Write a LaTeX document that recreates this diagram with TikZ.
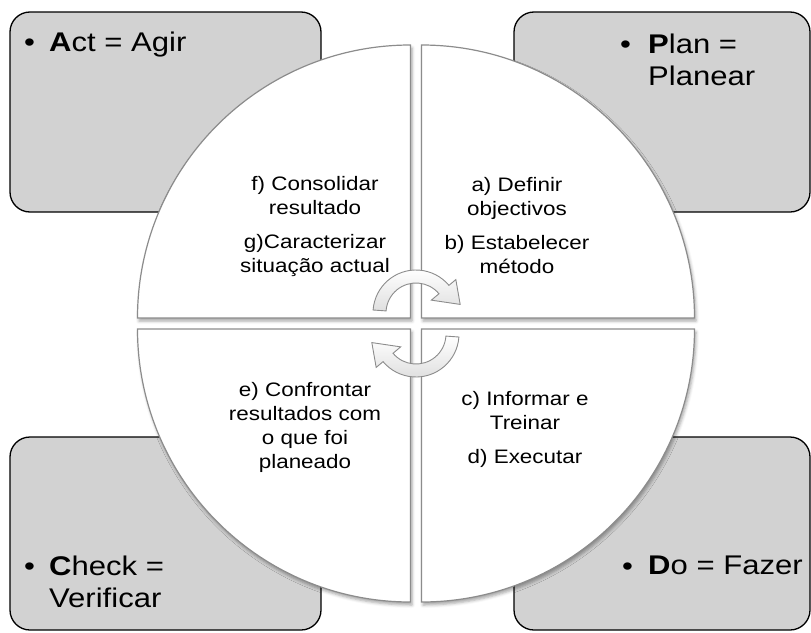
\documentclass[tikz,border=0pt]{standalone}
\usepackage{fontspec}
\setmainfont{Liberation Sans}
\usetikzlibrary{shadows.blur}

\begin{document}
\begin{tikzpicture}[x=1pt, y=-1pt,
  box/.style={draw=black, line width=1.3pt, fill=gray!35, rounded corners=20pt},
  quad/.style={draw=black!45, line width=1.2pt, fill=white, blur shadow={shadow xshift=1.5pt, shadow yshift=-3pt, shadow blur radius=3pt, shadow opacity=35}},
  turn/.style={draw=black!45, line width=0.9pt, top color=white, bottom color=gray!25},
  big/.style={font=\fontsize{27}{32}\selectfont, inner sep=0pt, xscale=1.15, align=left},
  small/.style={font=\fontsize{19.5}{24}\selectfont, inner sep=0pt, xscale=1.15, align=center}]
  \useasboundingbox (0,0) rectangle (811,632);

  % corner boxes
  \path[box] (10,12) rectangle (321,212);
  \path[box] (514,12) rectangle (810,212);
  \path[box] (10,437) rectangle (321,630);
  \path[box] (514,437) rectangle (810,630);

  % circle in four pieces
  \path[quad] (410.5,318) -- ++(-273,0) arc[start angle=180, end angle=270, radius=273] -- cycle;
  \path[quad] (421.5,318) -- ++(0,-273) arc[start angle=270, end angle=360, radius=273] -- cycle;
  \path[quad] (421.5,329) -- ++(273,0) arc[start angle=0, end angle=90, radius=273] -- cycle;
  \path[quad] (410.5,329) -- ++(0,273) arc[start angle=90, end angle=180, radius=273] -- cycle;

  % turning arrows
  \begin{scope}[shift={(416,313)}]
    \path[turn] (184:43) arc[start angle=184, end angle=320, radius=43] -- (320:52) -- (349:45) -- (320:20) -- (320:30) arc[start angle=320, end angle=184, radius=30] -- cycle;
  \end{scope}
  \begin{scope}[shift={(416,334)}, rotate=180]
    \path[turn] (184:43) arc[start angle=184, end angle=320, radius=43] -- (320:52) -- (349:45) -- (320:20) -- (320:30) arc[start angle=320, end angle=184, radius=30] -- cycle;
  \end{scope}

  % box labels
  \node[big, anchor=base west] (actdot) at (24,51) {\textbullet};
  \node[big, anchor=north west] (act) at (49,32) {\textbf{A}ct = Agir};
  \node[big, anchor=base west] (plandot) at (620,53) {\textbullet};
  \node[big, anchor=north west] (plan) at (648,34) {\textbf{P}lan =\\Planear};
  \node[big, anchor=base west] (checkdot) at (24,575) {\textbullet};
  \node[big, anchor=north west] (check) at (49,556) {\textbf{C}heck =\\Verificar};
  \node[big, anchor=base west] (dodot) at (622,575) {\textbullet};
  \node[big, anchor=north west] (do) at (648,556) {\textbf{D}o = Fazer};

  % steps
  \node[small] (actsteps) at (315,226) {f) Consolidar\\resultado\\[10pt]g)Caracterizar\\situação actual};
  \node[small] (plansteps) at (517,226) {a) Definir\\objectivos\\[10pt]b) Estabelecer\\método};
  \node[small] (checksteps) at (305,427) {e) Confrontar\\resultados com\\o que foi\\planeado};
  \node[small] (dosteps) at (525,429) {c) Informar e\\Treinar\\[10pt]d) Executar};
\end{tikzpicture}
\end{document}
